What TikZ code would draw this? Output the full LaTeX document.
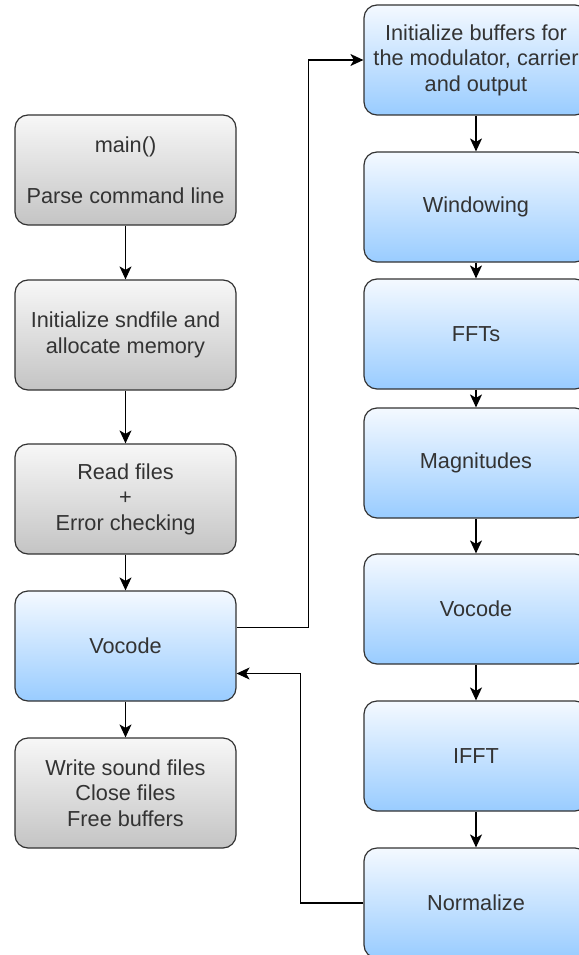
\documentclass[tikz,border=0pt]{standalone}
\usepackage{fontspec}
\setmainfont{Liberation Sans}
\usetikzlibrary{arrows.meta}
\definecolor{txtgray}{HTML}{333333}
\definecolor{linegray}{HTML}{333333}
\definecolor{graytop}{HTML}{F7F7F7}
\definecolor{graybot}{HTML}{C4C4C4}
\definecolor{bluetop}{HTML}{F4F9FF}
\definecolor{bluebot}{HTML}{99CCFF}
\begin{document}
\begin{tikzpicture}[x=1pt,y=-1pt,
  box/.style={rectangle,rounded corners=13pt,draw=linegray,line width=1.2pt,
    minimum width=221pt,minimum height=110pt,align=center,text=txtgray,
    font=\fontsize{21.7}{25.5}\selectfont},
  graybox/.style={box,top color=graytop,bottom color=graybot},
  bluebox/.style={box,top color=bluetop,bottom color=bluebot,minimum width=224pt},
  arr/.style={draw=black,line width=1.2pt,-{Stealth[length=13pt,width=12pt,inset=3.5pt]}}]
\useasboundingbox (0,0) rectangle (578,955);
\fill[white] (0,0) rectangle (578,955);

\node[graybox] (main)  at (125.5,170) {main()\\[25.5pt]Parse command line};
\node[graybox] (init)  at (125.5,335) {Initialize sndfile and\\allocate memory};
\node[graybox] (read)  at (125.5,499) {Read files\\+\\Error checking};
\node[bluebox,minimum width=221pt] (vocL) at (125.5,646) {Vocode};
\node[graybox] (write) at (125.5,793) {Write sound files\\Close files\\Free buffers};

\node[bluebox] (buf)  at (476,60)  {Initialize buffers for\\the modulator, carrier\\and output};
\node[bluebox] (win)  at (476,207) {Windowing};
\node[bluebox] (fft)  at (476,334) {FFTs};
\node[bluebox] (mag)  at (476,463) {Magnitudes};
\node[bluebox] (vocR) at (476,609) {Vocode};
\node[bluebox] (ifft) at (476,756) {IFFT};
\node[bluebox] (norm) at (476,903) {Normalize};

\draw[arr] (main) -- (init);
\draw[arr] (init) -- (read);
\draw[arr] (read) -- (vocL);
\draw[arr] (vocL) -- (write);

\draw[arr] (buf) -- (win);
\draw[arr] (win) -- (fft);
\draw[arr] (fft) -- (mag);
\draw[arr] (mag) -- (vocR);
\draw[arr] (vocR) -- (ifft);
\draw[arr] (ifft) -- (norm);

\draw[arr] ([yshift=18.5pt]vocL.east) -| ([xshift=-55pt]buf.west) -- (buf.west);
\draw[arr] (norm.west) -| ([xshift=64pt,yshift=-27.5pt]vocL.east) -- ([yshift=-27.5pt]vocL.east);

\end{tikzpicture}
\end{document}
